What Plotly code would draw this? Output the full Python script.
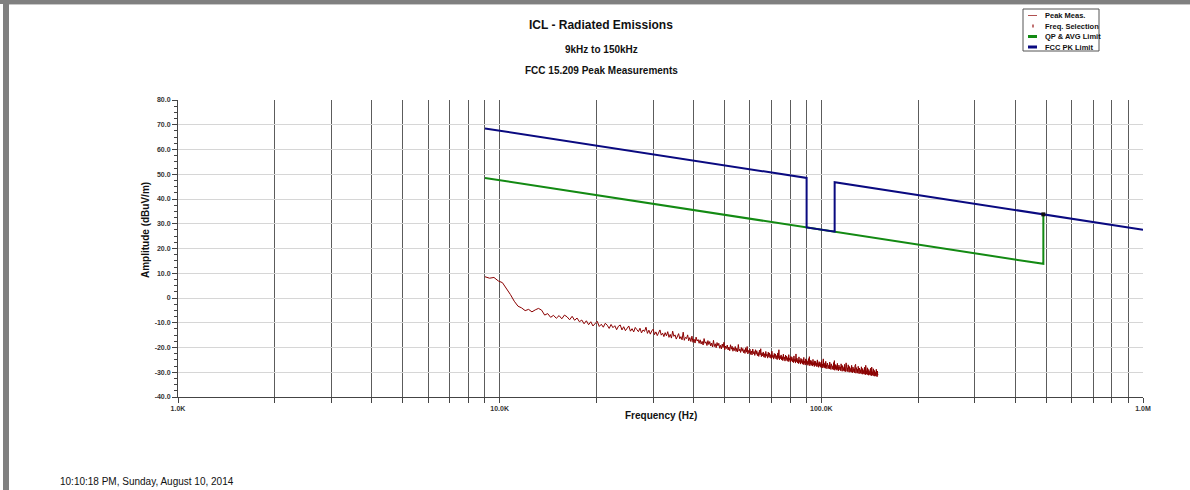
import plotly.graph_objects as go

# ---------------- data ----------------
pk_freq = [9000, 90000, 90000, 110000, 110000, 490000, 1000000]
pk_limit = [68.5, 48.5, 28.5, 26.8, 46.8, 33.8, 27.6]

qp_freq = [9000, 490000, 490000]
qp_limit = [48.5, 13.8, 33.8]

sel_freq = [490000]
sel_amp = [33.8]

meas_start_hz = 9000
meas_step_hz = 300
meas_amp = [
    8.6, 8.0, 8.3, 6.9, 6.2, 3.9, 1.4, -1.3, -3.3, -4.0,
    -5.1, -4.6, -5.6, -4.8, -4.2, -4.9, -6.9, -6.3, -7.8, -7.0,
    -8.2, -7.1, -8.4, -6.9, -7.6, -8.8, -7.4, -9.0, -8.1, -9.6,
    -8.9, -10.4, -9.2, -10.8, -9.6, -11.3, -10.1, -9.4, -11.5, -10.6,
    -11.8, -10.2, -11.0, -12.3, -10.7, -12.0, -11.2, -12.8, -11.4, -10.9,
    -12.9, -11.6, -13.2, -12.0, -11.3, -13.4, -12.4, -13.7, -11.9, -12.8,
    -13.6, -12.2, -14.1, -12.9, -13.5, -11.8, -14.3, -13.0, -14.6, -13.3,
    -12.6, -14.8, -13.7, -15.2, -13.9, -12.9, -15.0, -14.2, -15.6, -14.0,
    -15.3, -13.6, -15.9, -14.7, -16.2, -13.4, -15.5, -14.9, -16.6, -15.1,
    -14.4, -16.5, -15.6, -16.9, -13.8, -17.1, -15.9, -16.4, -14.9, -17.3,
    -16.0, -17.6, -15.4, -17.9, -16.6, -18.2, -15.8, -17.4, -16.8, -18.3,
    -16.9, -18.6, -17.5, -19.0, -16.4, -18.3, -17.7, -19.2, -17.2, -18.8,
    -17.6, -19.4, -18.2, -19.8, -17.1, -19.6, -18.5, -20.1, -18.0, -19.3,
    -18.3, -20.3, -19.1, -20.6, -18.6, -20.0, -17.9, -20.9, -19.4, -20.4,
    -19.0, -21.0, -19.8, -21.3, -18.9, -20.7, -19.5, -21.5, -20.1, -21.2,
    -19.6, -21.6, -20.3, -21.8, -18.8, -21.4, -20.6, -22.0, -20.0, -21.5,
    -20.4, -22.1, -20.9, -22.4, -20.1, -21.9, -19.6, -22.6, -21.2, -22.2,
    -20.7, -22.8, -21.4, -23.0, -20.6, -22.5, -21.6, -23.2, -20.9, -22.7,
    -21.3, -23.3, -22.0, -23.6, -21.1, -23.0, -20.5, -23.7, -22.2, -23.4,
    -21.8, -23.9, -22.5, -24.1, -21.6, -23.5, -22.7, -24.3, -21.9, -23.8,
    -22.2, -24.2, -22.9, -24.5, -21.5, -24.0, -23.1, -24.7, -22.4, -24.1,
    -22.6, -24.6, -23.3, -24.9, -22.2, -24.4, -20.9, -25.0, -23.4, -24.5,
    -23.0, -25.0, -23.7, -25.3, -22.7, -24.8, -23.9, -25.5, -23.1, -24.9,
    -23.5, -25.4, -24.1, -25.7, -22.9, -25.2, -24.3, -25.9, -23.6, -25.3,
    -23.9, -25.8, -24.5, -26.1, -23.4, -25.6, -24.7, -26.3, -22.6, -25.7,
    -24.3, -26.2, -24.9, -26.5, -23.8, -26.0, -25.1, -26.7, -24.4, -26.1,
    -24.7, -26.6, -25.3, -26.9, -24.0, -26.4, -25.5, -27.1, -24.6, -26.5,
    -25.0, -26.9, -25.6, -27.2, -24.5, -26.7, -23.7, -27.4, -25.2, -26.8,
    -25.3, -27.2, -25.9, -27.5, -24.8, -27.0, -26.1, -27.7, -25.4, -27.1,
    -25.6, -27.5, -26.2, -27.8, -25.0, -27.3, -26.4, -28.0, -25.7, -27.4,
    -25.9, -27.8, -26.5, -28.1, -25.3, -27.6, -26.7, -28.3, -24.6, -27.7,
    -26.2, -28.1, -26.8, -28.4, -25.6, -27.9, -27.0, -28.6, -26.3, -28.0,
    -26.5, -28.4, -27.1, -28.7, -25.9, -28.2, -27.3, -28.9, -26.6, -28.3,
    -26.8, -28.7, -27.4, -29.0, -26.1, -28.5, -25.3, -29.2, -26.9, -28.6,
    -27.0, -28.9, -27.6, -29.2, -26.4, -28.7, -27.8, -29.4, -27.1, -28.8,
    -27.2, -29.1, -27.8, -29.4, -26.6, -28.9, -28.0, -29.6, -27.3, -29.0,
    -27.4, -29.3, -28.0, -29.6, -26.8, -29.1, -28.2, -29.8, -26.2, -29.2,
    -27.6, -29.5, -28.2, -29.8, -27.0, -29.3, -28.4, -30.0, -27.7, -29.4,
    -27.8, -29.7, -28.4, -30.0, -27.2, -29.5, -28.6, -30.2, -27.9, -29.6,
    -28.0, -29.9, -28.6, -30.2, -27.4, -29.7, -26.8, -30.4, -28.1, -29.8,
    -28.2, -30.1, -28.8, -30.4, -27.6, -29.9, -29.0, -30.6, -28.3, -30.0,
    -28.4, -30.3, -29.0, -30.6, -27.8, -30.1, -29.2, -30.8, -28.5, -30.2,
    -28.6, -30.5, -29.2, -30.8, -28.0, -30.3, -29.4, -31.0, -27.2, -30.4,
    -28.8, -30.7, -29.4, -31.0, -28.2, -30.5, -29.6, -31.2, -28.9, -30.6,
    -29.0, -30.9, -29.6, -31.2, -28.4, -30.7, -29.8, -31.4, -27.9, -30.8,
    -29.2, -31.1, -29.8, -31.4, -28.6, -30.9, -30.0, -31.6, -29.3, -31.0,
    -29.4, -31.3, -30.0, -31.6, -28.8, -31.1, -30.2, -31.8, -29.5, -31.2,
    -31.0,
]
meas_freq = [meas_start_hz + meas_step_hz * i for i in range(len(meas_amp))]

y_tickvals = [80, 70, 60, 50, 40, 30, 20, 10, 0, -10, -20, -30, -40]
y_ticktext = ["80.0", "70.0", "60.0", "50.0", "40.0", "30.0", "20.0", "10.0",
              "0", "-10.0", "-20.0", "-30.0", "-40.0"]
x_decades = {1000: "1.0K", 10000: "10.0K", 100000: "100.0K", 1000000: "1.0M"}
x_tickvals = [m * 10 ** e for e in (3, 4, 5) for m in range(1, 10)] + [1000000]
x_ticktext = [x_decades.get(v, "") for v in x_tickvals]

# ---------------- layout helpers ----------------
W, H = 1190, 490
L, R, T, B = 178, 1143, 100, 397


def px(x):
    return (x - L) / (R - L)


def py(y):
    return (B - y) / (B - T)


FONT = "Liberation Sans, Arial, sans-serif"
RED = "#8b0000"
GREEN = "#138a13"
BLUE = "#0a0a80"

fig = go.Figure()
fig.add_trace(go.Scatter(x=meas_freq, y=meas_amp, mode="lines", name="Peak Meas.",
                         line=dict(color=RED, width=1)))
fig.add_trace(go.Scatter(x=qp_freq, y=qp_limit, mode="lines", name="QP & AVG Limit",
                         line=dict(color=GREEN, width=2)))
fig.add_trace(go.Scatter(x=pk_freq, y=pk_limit, mode="lines", name="FCC PK Limit",
                         line=dict(color=BLUE, width=2)))
fig.add_trace(go.Scatter(x=sel_freq, y=sel_amp, mode="markers", name="Freq. Selection",
                         marker=dict(color="#111111", size=4, symbol="square")))

annotations = [
    dict(x=px(601), y=py(25), text="<b>ICL - Radiated Emissions</b>", font=dict(size=12)),
    dict(x=px(601), y=py(49), text="<b>9kHz to 150kHz</b>", font=dict(size=10)),
    dict(x=px(601), y=py(70), text="<b>FCC 15.209 Peak Measurements</b>", font=dict(size=10)),
    dict(x=px(661), y=py(415), text="<b>Frequency (Hz)</b>", font=dict(size=10)),
    dict(x=px(145), y=py(230), text="<b>Amplitude (dBuV/m)</b>", font=dict(size=10),
         textangle=-90),
    dict(x=px(58), y=py(481), text="10:10:18 PM, Sunday, August 10, 2014",
         font=dict(size=10), xanchor="left"),
]

shapes = [
    # window frame
    dict(type="rect", x0=px(0), x1=px(1190), y0=py(0), y1=py(4),
         fillcolor="#808080", line=dict(width=0)),
    dict(type="line", x0=px(9), x1=px(1190), y0=py(4.5), y1=py(4.5),
         line=dict(color="#c8c8c8", width=1)),
    dict(type="rect", x0=px(3), x1=px(9), y0=py(2), y1=py(490),
         fillcolor="#808080", line=dict(width=0)),
    # legend box
    dict(type="rect", x0=px(1023), x1=px(1099), y0=py(9), y1=py(51),
         fillcolor="white", line=dict(color="#555555", width=1)),
]

legend_items = [
    ("Peak Meas.", "line", "#b05050", 1),
    ("Freq. Selection", "mark", "#c07070", 0),
    ("QP & AVG Limit", "line", GREEN, 3),
    ("FCC PK Limit", "line", BLUE, 3),
]
for k, (label, kind, col, wid) in enumerate(legend_items):
    yy = 15.5 + 10.5 * k
    if kind == "line":
        shapes.append(dict(type="line", x0=px(1028), x1=px(1037), y0=py(yy), y1=py(yy),
                           line=dict(color=col, width=wid)))
    else:
        shapes.append(dict(type="rect", x0=px(1032), x1=px(1034), y0=py(yy - 1.5),
                           y1=py(yy + 1.5), fillcolor=col, line=dict(width=0)))
    annotations.append(dict(x=px(1043), y=py(yy), text="<b>%s</b>" % label,
                            font=dict(size=7.5), xanchor="left"))

for s in shapes:
    s.update(xref="paper", yref="paper", layer="above")

for a in annotations:
    a.update(xref="paper", yref="paper", showarrow=False,
             yanchor=a.get("yanchor", "middle"), xanchor=a.get("xanchor", "center"))
    a["font"].update(family=FONT, color="#111111")

fig.update_layout(
    width=W, height=H,
    margin=dict(l=L, r=W - R, t=T, b=H - B, pad=0),
    paper_bgcolor="white", plot_bgcolor="white",
    showlegend=False,
    font=dict(family=FONT, color="#222222"),
    annotations=annotations,
    shapes=shapes,
    xaxis=dict(
        type="log", range=[3, 6], tickvals=x_tickvals, ticktext=x_ticktext,
        showgrid=True, gridcolor="#5c5c5c", gridwidth=1,
        ticks="outside", ticklen=5, tickcolor="#444444", tickwidth=1,
        showline=True, linecolor="#444444", linewidth=1,
        tickfont=dict(size=7, family=FONT, color="#333333", weight="bold"),
        zeroline=False,
    ),
    yaxis=dict(
        range=[-40, 80], tickvals=y_tickvals, ticktext=y_ticktext,
        showgrid=True, gridcolor="#d6d6d6", gridwidth=1,
        ticks="outside", ticklen=5, tickcolor="#444444", tickwidth=1,
        showline=True, linecolor="#444444", linewidth=1,
        tickfont=dict(size=7, family=FONT, color="#333333", weight="bold"),
        zeroline=False,
        minor=dict(dtick=2.5, ticks="outside", ticklen=3, tickcolor="#444444",
                   showgrid=False),
    ),
)

fig.write_html("out.html")
